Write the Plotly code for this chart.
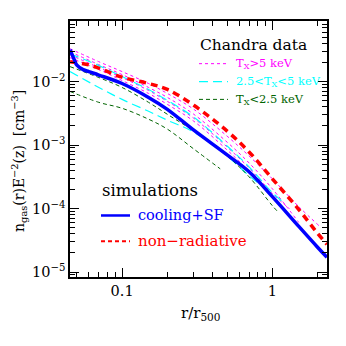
import plotly.graph_objects as go

# ---------------- data (r/r500, n_gas E^-2 [cm^-3]) ----------------
cool_r = [0.045, 0.048, 0.05, 0.055, 0.06, 0.07, 0.1, 0.15, 0.2, 0.3, 0.5, 0.7, 1.0, 1.5, 2.0, 2.31]
cool_n = [0.0316, 0.0221, 0.0181, 0.0154, 0.0143, 0.01265, 0.0093, 0.00562, 0.00365, 0.00171,
          0.000698, 0.000379, 0.000154, 5.23e-5, 2.46e-5, 1.71e-5]

nonrad_r = [0.045, 0.06, 0.07, 0.1, 0.15, 0.2, 0.3, 0.5, 0.7, 1.0, 1.5, 2.0, 2.31]
nonrad_n = [0.0205, 0.0183, 0.01625, 0.0117, 0.0093, 0.0075, 0.00422, 0.00166, 0.000778,
            0.000294, 9.64e-5, 4.07e-5, 2.74e-5]

# Chandra, Tx > 5 keV
hot_r = [
    [0.045, 0.07, 0.1, 0.15, 0.2, 0.3, 0.5, 0.7, 1.0, 1.5, 2.07],
    [0.045, 0.07, 0.1, 0.15, 0.2, 0.3, 0.5, 0.7, 1.0, 1.5],
    [0.045, 0.07, 0.1, 0.15, 0.2, 0.3, 0.5, 0.7, 1.0, 1.3],
    [0.045, 0.07, 0.1, 0.15, 0.2, 0.3, 0.5, 0.7, 0.9],
]
hot_n = [
    [0.0328, 0.0205, 0.01433, 0.00930, 0.00649, 0.00365, 0.00138, 0.000673, 0.000294, 0.000107, 5.23e-5],
    [0.0294, 0.01845, 0.01286, 0.00806, 0.00562, 0.00305, 0.00111, 0.000523, 0.000205, 6.04e-5],
    [0.0264, 0.01655, 0.01155, 0.00723, 0.00487, 0.00264, 0.000931, 0.000437, 0.000172, 0.0001],
    [0.0237, 0.0154, 0.01037, 0.00649, 0.00437, 0.00237, 0.000836, 0.000393, 0.000229],
]

# Chandra, 2.5 < Tx < 5 keV
mid_r = [
    [0.045, 0.07, 0.1, 0.15, 0.2, 0.3, 0.5, 0.7, 1.0, 1.15],
    [0.045, 0.07, 0.1, 0.15, 0.2, 0.3, 0.5, 0.7, 0.8],
]
mid_n = [
    [0.0274, 0.0178, 0.01197, 0.0075, 0.00505, 0.00274, 0.000965, 0.000453, 0.000178, 0.000133],
    [0.01433, 0.00806, 0.00523, 0.0034, 0.00246, 0.0016, 0.000673, 0.000328, 0.000255],
]

# Chandra, Tx < 2.5 keV
cool_obs_r = [
    [0.045, 0.07, 0.1, 0.15, 0.2, 0.3, 0.5, 0.7, 1.0, 1.1],
    [0.045, 0.07, 0.1, 0.15, 0.2, 0.3, 0.45],
]
cool_obs_n = [
    [0.01715, 0.01155, 0.00806, 0.0047, 0.00305, 0.00166, 0.000673, 0.000316, 0.000111, 8.66e-5],
    [0.00698, 0.0047, 0.00379, 0.00255, 0.00178, 0.000866, 0.000422],
]

x_ticks = [0.1, 1]
x_ticktext = ["0.1", "1"]
y_ticks = [1e-5, 1e-4, 1e-3, 1e-2]
y_ticktext = ["10<sup>\u22125</sup>", "10<sup>\u22124</sup>", "10<sup>\u22123</sup>", "10<sup>\u22122</sup>"]

FONT = "DejaVu Serif"
MAG, CYA, GRN = "#ff00ff", "#00ffff", "#006400"

fig = go.Figure()

for r, n in zip(hot_r, hot_n):
    fig.add_trace(go.Scatter(x=r, y=n, mode="lines", line=dict(color=MAG, width=1, dash="dot"),
                             showlegend=False, line_shape="spline"))
for r, n in zip(mid_r, mid_n):
    fig.add_trace(go.Scatter(x=r, y=n, mode="lines", line=dict(color=CYA, width=1.2, dash="9px,5px"),
                             showlegend=False, line_shape="spline"))
for r, n in zip(cool_obs_r, cool_obs_n):
    fig.add_trace(go.Scatter(x=r, y=n, mode="lines", line=dict(color=GRN, width=1, dash="4px,3px"),
                             showlegend=False, line_shape="spline"))

fig.add_trace(go.Scatter(x=nonrad_r, y=nonrad_n, mode="lines",
                         line=dict(color="#ff0000", width=3.5, dash="7px,5px"), showlegend=False,
                         line_shape="spline"))
fig.add_trace(go.Scatter(x=cool_r, y=cool_n, mode="lines",
                         line=dict(color="#0000ff", width=3.5), showlegend=False, line_shape="spline"))

def minor_vals(lo, hi):
    vals = []
    for e in range(lo, hi):
        for m in range(2, 10):
            vals.append(m * 10 ** e)
    return vals

axis_common = dict(type="log", showline=True, linecolor="black", linewidth=1.5, mirror="allticks",
                   ticks="inside", ticklen=9, tickwidth=1, tickcolor="black", showgrid=False,
                   zeroline=False, tickmode="array",
                   tickfont=dict(family=FONT, size=14.5, color="black"))

fig.update_xaxes(**axis_common, range=[-1.347, 0.364], tickvals=x_ticks, ticktext=x_ticktext,
                 minor=dict(ticks="inside", ticklen=5, tickcolor="black", tickmode="array",
                            tickvals=minor_vals(-2, 1), showgrid=False))
fig.update_yaxes(**axis_common, range=[-5.078, -1.047], tickvals=y_ticks, ticktext=y_ticktext,
                 minor=dict(ticks="inside", ticklen=5, tickcolor="black", tickmode="array",
                            tickvals=minor_vals(-6, 0), showgrid=False))

# the page body adds an 8px offset; compensate so the plot frame lands at x 70..327, y 19..277
OFF = 8
L, T = 70 - OFF, 19 - OFF
W, H = 257, 258
R = 346 - L - W
B = 346 - T - H

def px(sx):
    return (sx - OFF - L) / W

def py(sy):
    return (346 - B + OFF - sy) / H

ann = []
def text(x, y, s, size, color="black", xanchor="left", angle=0):
    ann.append(dict(x=px(x), y=py(y), xref="paper", yref="paper", text=s, showarrow=False,
                    xanchor=xanchor, yanchor="middle", textangle=angle,
                    font=dict(family=FONT, size=size, color=color)))

text(198, 43, "Chandra data", 15.5)
text(234, 62, "T<sub>X</sub>&gt;5 keV", 11.5, MAG)
text(234, 80, "2.5&lt;T<sub>X</sub>&lt;5 keV", 11.5, CYA)
text(234, 98, "T<sub>X</sub>&lt;2.5 keV", 11.5, GRN)
text(100, 190, "simulations", 16.5)
text(136, 215, "cooling+SF", 14.5, "#0000ff")
text(136, 241, "non\u2212radiative", 15, "#ff0000")
text(200, 314, "r/r<sub>500</sub>", 15, xanchor="center")
text(19, 160, "n<sub>gas</sub>(r)E<sup>\u22122</sup>(z)  [cm<sup>\u22123</sup>]", 14, xanchor="center", angle=-90)

shapes = []
def seg(x0, x1, y, color, width, dash):
    shapes.append(dict(type="line", xref="paper", yref="paper", x0=px(x0), x1=px(x1), y0=py(y), y1=py(y),
                       line=dict(color=color, width=width, dash=dash)))

seg(199, 228, 62, MAG, 1, "dot")
seg(199, 228, 80, CYA, 1.2, "9px,5px")
seg(199, 228, 98, GRN, 1, "4px,3px")
seg(101, 130, 215, "#0000ff", 2.5, "solid")
seg(101, 130, 241, "#ff0000", 2, "4px,3px")

fig.update_layout(width=346, height=346, margin=dict(l=L, r=R, t=T, b=B),
                  paper_bgcolor="white", plot_bgcolor="white",
                  annotations=ann, shapes=shapes, showlegend=False)

fig.write_html("out.html")
